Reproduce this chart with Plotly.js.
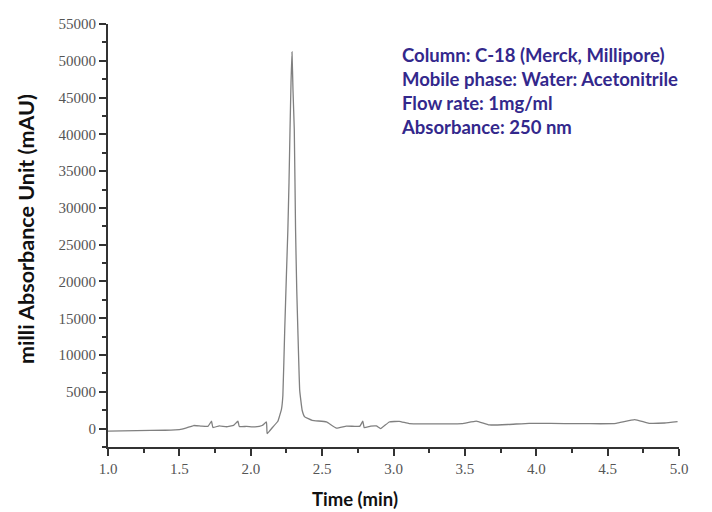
<!DOCTYPE html>
<html>
<head>
<meta charset="utf-8">
<script src="https://cdn.plot.ly/plotly-3.0.1.min.js"></script>
<style>html,body{margin:0;padding:0;background:#fff;}#chart{width:712px;height:512px;}</style>
</head>
<body>
<div id="chart"></div>
<script>
// Retention time (min)
const timeMin = [1.00, 1.20, 1.40, 1.50, 1.55, 1.60, 1.65, 1.70, 1.725, 1.735, 1.78, 1.83, 1.88, 1.91, 1.92, 1.97, 2.03, 2.08, 2.11, 2.115, 2.155, 2.19, 2.20, 2.215, 2.225, 2.238, 2.25, 2.26, 2.268, 2.275, 2.282, 2.289, 2.296, 2.305, 2.314, 2.322, 2.33, 2.343, 2.36, 2.378, 2.43, 2.53, 2.60, 2.67, 2.73, 2.765, 2.785, 2.795, 2.84, 2.88, 2.91, 2.97, 3.04, 3.11, 3.30, 3.48, 3.58, 3.67, 3.80, 3.95, 4.10, 4.30, 4.45, 4.56, 4.69, 4.79, 4.90, 4.99];
// Absorbance (mAU)
const absorbance = [-330, -280, -220, -140, 100, 420, 350, 300, 1000, 150, 380, 250, 450, 1000, 280, 300, 230, 420, 900, -680, 220, 1000, 1600, 2600, 4500, 13400, 21000, 27000, 33500, 40600, 47000, 51200, 46000, 40600, 27000, 19000, 13400, 5200, 2500, 1600, 1130, 900, 80, 350, 300, 340, 1000, 120, 330, 360, 0, 900, 990, 680, 650, 680, 1030, 500, 560, 720, 700, 680, 660, 720, 1220, 720, 760, 950];
const infoLines = [
  "Column: C-18 (Merck, Millipore)",
  "Mobile phase: Water: Acetonitrile",
  "Flow rate: 1mg/ml",
  "Absorbance: 250 nm"
];
const xTitle = "Time (min)";
const yTitle = "milli Absorbance Unit (mAU)";

const trace = {
  x: timeMin, y: absorbance, type: 'scatter', mode: 'lines',
  line: {color: '#808080', width: 1.3, shape: 'spline', smoothing: 0.3},
  hoverinfo: 'skip'
};

const W = 712, H = 512, L = 108, R = 33, T = 24, B = 65;
const pw = W - L - R, ph = H - T - B;
const px = v => (v - L) / pw;
const py = v => 1 - (v - T) / ph;

const tickFont = {family: '"Liberation Serif", "Times New Roman", serif', size: 15, color: '#555'};
const titleFamily = 'Lato, "Open Sans", sans-serif';

const layout = {
  width: W, height: H,
  margin: {l: L, r: R, t: T, b: B},
  paper_bgcolor: '#fff', plot_bgcolor: '#fff',
  showlegend: false,
  xaxis: {
    range: [1, 5], dtick: 0.5, tick0: 1, tickformat: '.1f',
    showgrid: false, zeroline: false,
    showline: true, linecolor: '#333', linewidth: 2,
    ticks: 'outside', ticklen: 7, tickwidth: 2, tickcolor: '#333',
    minor: {dtick: 0.25, ticks: 'outside', ticklen: 4, tickwidth: 2, tickcolor: '#333'},
    tickfont: tickFont
  },
  yaxis: {
    range: [-2500, 55000], dtick: 5000, tick0: 0, tickformat: 'd',
    showgrid: false, zeroline: false,
    showline: true, linecolor: '#333', linewidth: 2,
    ticks: 'outside', ticklen: 7, tickwidth: 2, tickcolor: '#333',
    minor: {dtick: 2500, ticks: 'outside', ticklen: 4, tickwidth: 2, tickcolor: '#333'},
    tickfont: tickFont
  },
  annotations: [
    {
      xref: 'paper', yref: 'paper', x: px(399), y: py(42),
      xanchor: 'left', yanchor: 'top', align: 'left', showarrow: false,
      text: infoLines.join('<br>'),
      font: {family: titleFamily, size: 18.5, color: '#33288c', weight: 'bold'}
    },
    {
      xref: 'paper', yref: 'paper', x: px(355), y: py(499),
      xanchor: 'center', yanchor: 'middle', showarrow: false,
      text: xTitle,
      font: {family: titleFamily, size: 18.5, color: '#111', weight: 'bold'}
    },
    {
      xref: 'paper', yref: 'paper', x: px(26), y: py(229),
      xanchor: 'center', yanchor: 'middle', showarrow: false, textangle: -90,
      text: yTitle,
      font: {family: titleFamily, size: 21.5, color: '#111', weight: 'bold'}
    }
  ]
};

Plotly.newPlot('chart', [trace], layout, {displayModeBar: false, staticPlot: true});
</script>
</body>
</html>
